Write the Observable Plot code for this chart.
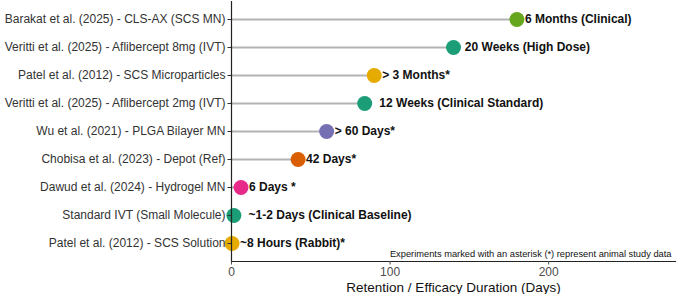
<!DOCTYPE html>
<html>
<head>
<meta charset="utf-8">
<script src="https://cdn.jsdelivr.net/npm/d3@7"></script>
<script src="https://cdn.jsdelivr.net/npm/@observablehq/plot@0.6"></script>
<style>
  body { margin: 0; background: #fff; }
  svg { font-family: "Liberation Sans", Arial, sans-serif; }
</style>
</head>
<body>
<div id="chart"></div>
<script>
const studies = [
  "Barakat et al. (2025) - CLS-AX (SCS MN)",
  "Veritti et al. (2025) - Aflibercept 8mg (IVT)",
  "Patel et al. (2012) - SCS Microparticles",
  "Veritti et al. (2025) - Aflibercept 2mg (IVT)",
  "Wu et al. (2021) - PLGA Bilayer MN",
  "Chobisa et al. (2023) - Depot (Ref)",
  "Dawud et al. (2024) - Hydrogel MN",
  "Standard IVT (Small Molecule)",
  "Patel et al. (2012) - SCS Solution"
];
const durations = [180, 140, 90, 84, 60, 42, 6, 1.5, 0.33];
const labels = [
  "6 Months (Clinical)",
  "\u00a020 Weeks (High Dose)",
  "> 3 Months*",
  "\u00a0\u00a012 Weeks (Clinical Standard)",
  "> 60 Days*",
  "42 Days*",
  "6 Days *",
  "\u00a0\u00a0~1-2 Days (Clinical Baseline)",
  "~8 Hours (Rabbit)*"
];
const groups = ["SCS MN", "IVT", "SCS", "IVT", "PLGA MN", "Depot", "Hydrogel MN", "IVT", "SCS"];
const groupDomain = ["SCS MN", "IVT", "SCS", "PLGA MN", "Depot", "Hydrogel MN"];
const groupColors = ["#66a61e", "#1b9e77", "#e6ab02", "#7570b3", "#d95f02", "#e7298a"];
const xTicks = [0, 100, 200];
const note = "Experiments marked with an asterisk (*) represent animal study data";

const data = studies.map((s, i) => ({study: s, value: durations[i], label: labels[i], group: groups[i]}));

const chart = Plot.plot({
  width: 677,
  height: 294,
  marginLeft: 231,
  marginRight: 2,
  marginTop: 1,
  marginBottom: 33,
  style: {fontFamily: "Liberation Sans, Arial, sans-serif", background: "#fff"},
  x: {domain: [0, 280], ticks: xTicks, label: null},
  y: {domain: studies, type: "point", padding: 0.6, label: null},
  color: {domain: groupDomain, range: groupColors},
  marks: [
    Plot.ruleY(data, {y: "study", x1: 0, x2: "value", stroke: "#b3b3b3", strokeWidth: 2}),
    Plot.dot(data, {y: "study", x: "value", r: 7.5, fill: "group", stroke: null}),
    Plot.text(data, {y: "study", x: "value", text: "label", textAnchor: "start", dx: 8, fontSize: 12, fontWeight: "bold", fill: "#111"}),
    Plot.frame({anchor: "left", stroke: "#222", strokeWidth: 1.2, strokeOpacity: 1}),
    Plot.frame({anchor: "bottom", stroke: "#222", strokeWidth: 1.2, strokeOpacity: 1}),
    Plot.axisY({tickSize: 3.5, tickPadding: 2.5, fontSize: 12, color: "#333", label: null}),
    Plot.axisX({ticks: xTicks, tickSize: 3.5, tickPadding: 2, fontSize: 12, color: "#4d4d4d", label: null}),
    Plot.text([note], {frameAnchor: "bottom-right", dx: -4, dy: -5, fontSize: 9.3, fill: "#111"}),
    Plot.text(["Retention / Efficacy Duration (Days)"], {frameAnchor: "bottom", dy: 30, fontSize: 13.5, fill: "#111"})
  ]
});
document.getElementById("chart").appendChild(chart);
</script>
</body>
</html>
